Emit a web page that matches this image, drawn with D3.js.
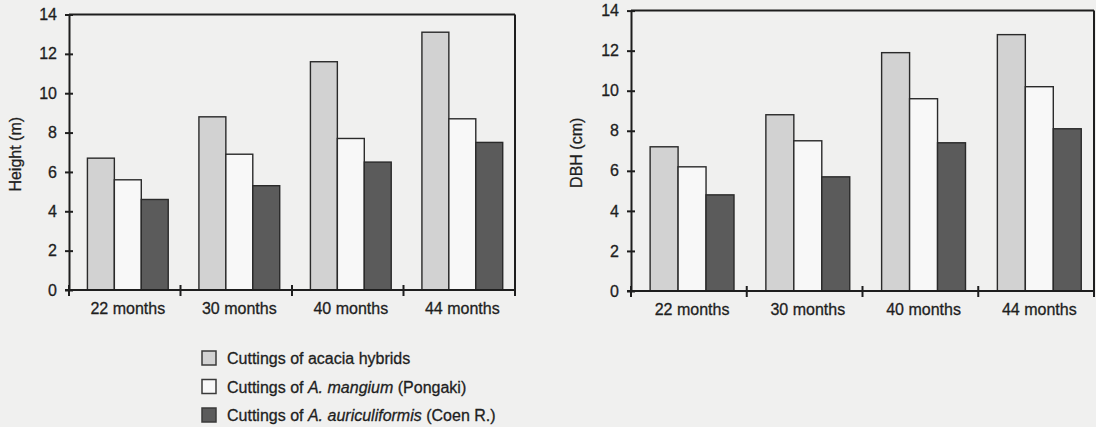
<!DOCTYPE html>
<html>
<head>
<meta charset="utf-8">
<script src="https://cdn.jsdelivr.net/npm/d3@7"></script>
<style>
  html, body { margin: 0; padding: 0; background: #f0f0ef; }
  svg { display: block; font-family: "Liberation Sans", Arial, Helvetica, sans-serif; }
  svg text { stroke: #1e1e1e; stroke-width: 0.3; }
  .axis path, .axis line { stroke: #1e1e1e; stroke-width: 2; }
  .axis text { fill: #1e1e1e; font-size: 16px; font-family: "Liberation Sans", Arial, sans-serif; }
</style>
</head>
<body>
<svg id="chart" width="1096" height="427"></svg>
<script>
// Growth of rooted cuttings at successive ages
const ages = ["22 months", "30 months", "40 months", "44 months"];
const seriesKeys = ["hybrid", "mangium", "auric"];

// Height (m)
const heightHybrid  = [6.7, 8.8, 11.6, 13.1];
const heightMangium = [5.6, 6.9, 7.7, 8.7];
const heightAuric   = [4.6, 5.3, 6.5, 7.5];

// Diameter at breast height (cm)
const dbhHybrid  = [7.2, 8.8, 11.9, 12.8];
const dbhMangium = [6.2, 7.5, 9.6, 10.2];
const dbhAuric   = [4.8, 5.7, 7.4, 8.1];

const yTicks = [0, 2, 4, 6, 8, 10, 12, 14];

const fills = { hybrid: "#d2d2d2", mangium: "#f8f8f8", auric: "#5b5b5b" };

const svg = d3.select("#chart");

const panels = [
  { title: "Height (m)", titleX: 21, left: 69, right: 515, top: 14.5, bottom: 290,
    values: { hybrid: heightHybrid, mangium: heightMangium, auric: heightAuric } },
  { title: "DBH (cm)", titleX: 582, left: 631, right: 1094, top: 10.6, bottom: 291,
    values: { hybrid: dbhHybrid, mangium: dbhMangium, auric: dbhAuric } }
];

panels.forEach(p => {
  const g = svg.append("g");

  const x = d3.scaleBand().domain(ages).range([p.left, p.right]).paddingInner(0).paddingOuter(0);
  const y = d3.scaleLinear().domain([0, 14]).range([p.bottom, p.top]);
  const inner = d3.scaleBand().domain(seriesKeys).range([0, x.bandwidth()])
    .paddingInner(0).paddingOuter(0.57).align(0.6);

  // bars
  const rows = ages.map((a, i) => ({ age: a, i }));
  const groups = g.selectAll("g.grp").data(rows).join("g")
    .attr("class", "grp")
    .attr("transform", d => `translate(${x(d.age)},0)`);
  groups.selectAll("rect")
    .data(d => seriesKeys.map(k => ({ key: k, v: p.values[k][d.i] })))
    .join("rect")
    .attr("x", d => inner(d.key))
    .attr("width", inner.bandwidth())
    .attr("y", d => y(d.v))
    .attr("height", d => y(0) - y(d.v))
    .attr("fill", d => fills[d.key])
    .attr("stroke", "#2a2a2a")
    .attr("stroke-width", 1.4);

  // frame: top and right edges
  g.append("line").attr("x1", p.left).attr("x2", p.right)
    .attr("y1", y(14)).attr("y2", y(14))
    .attr("stroke", "#1e1e1e").attr("stroke-width", 2);
  g.append("line").attr("x1", p.right).attr("x2", p.right)
    .attr("y1", y(14)).attr("y2", y(0))
    .attr("stroke", "#1e1e1e").attr("stroke-width", 2);

  // y axis with ticks crossing the line
  const ya = g.append("g").attr("class", "axis")
    .attr("transform", `translate(${p.left},0)`)
    .call(d3.axisLeft(y).tickValues(yTicks).tickSize(4).tickSizeOuter(0).tickPadding(8));
  ya.selectAll(".tick line").attr("x1", -4).attr("x2", 4);
  ya.selectAll(".tick text").attr("x", -12);

  // x axis: ticks at category boundaries, labels under each group
  const xa = g.append("g").attr("class", "axis")
    .attr("transform", `translate(0,${p.bottom})`);
  xa.append("line").attr("x1", p.left - 4).attr("x2", p.right)
    .attr("y1", 0).attr("y2", 0);
  const bounds = ages.map(a => x(a)).concat([p.right]);
  xa.selectAll("line.tk").data(bounds).join("line")
    .attr("class", "tk")
    .attr("x1", d => d).attr("x2", d => d)
    .attr("y1", -5).attr("y2", 6);
  xa.selectAll("text.lbl").data(ages).join("text")
    .attr("class", "lbl")
    .attr("x", a => x(a) + inner(seriesKeys[0]) + 1.5 * inner.bandwidth())
    .attr("y", 23.5)
    .attr("text-anchor", "middle")
    .text(a => a);

  // y title
  svg.append("text")
    .attr("transform", `translate(${p.titleX},${(p.top + p.bottom) / 2 + 2}) rotate(-90)`)
    .attr("text-anchor", "middle")
    .attr("font-size", 16)
    .attr("fill", "#1e1e1e")
    .text(p.title);
});

// legend
const legendItems = [
  { key: "hybrid", parts: [["Cuttings of acacia hybrids", false]] },
  { key: "mangium", parts: [["Cuttings of ", false], ["A. mangium", true], [" (Pongaki)", false]] },
  { key: "auric", parts: [["Cuttings of ", false], ["A. auriculiformis", true], [" (Coen R.)", false]] }
];
const legend = svg.append("g").attr("transform", "translate(202,351)");
const li = legend.selectAll("g").data(legendItems).join("g")
  .attr("transform", (d, i) => `translate(0,${i * 28.5})`);
li.append("rect")
  .attr("width", 14).attr("height", 14)
  .attr("fill", d => fills[d.key])
  .attr("stroke", "#3a3a3a").attr("stroke-width", 1.5);
const lt = li.append("text")
  .attr("x", 25).attr("y", 13)
  .attr("font-size", 16).attr("fill", "#1e1e1e");
lt.selectAll("tspan").data(d => d.parts).join("tspan")
  .attr("font-style", d => d[1] ? "italic" : "normal")
  .text(d => d[0]);
</script>
</body>
</html>
